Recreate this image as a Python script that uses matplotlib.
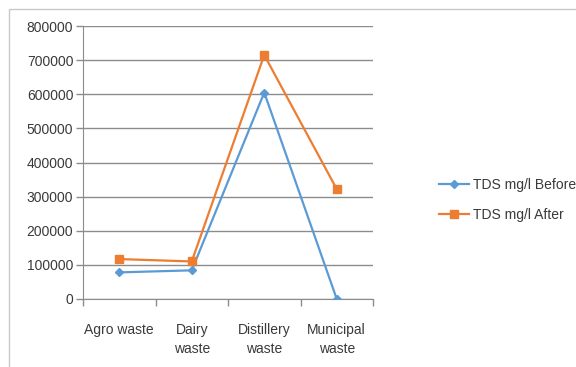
import matplotlib
matplotlib.use("Agg")
import matplotlib.pyplot as plt
from matplotlib.patches import Rectangle

categories = ["Agro waste", "Dairy\nwaste", "Distillery\nwaste", "Municipal\nwaste"]
tds_before = [78000, 84000, 605000, 0]
tds_after = [117000, 110000, 715000, 322000]
y_ticks = [0, 100000, 200000, 300000, 400000, 500000, 600000, 700000, 800000]

blue = "#5B9BD5"
orange = "#ED7D31"
grid_c = "#8C8C8C"
text_c = "#3A3A3A"

plt.rcParams["font.family"] = ["Liberation Sans", "DejaVu Sans"]

fig = plt.figure(figsize=(5.76, 3.67), dpi=100)
fig.patch.set_facecolor("white")

# chart area frame
fig.patches.append(Rectangle((9 / 576, -0.1), 1.2, 1 - 9 / 367 + 0.1,
                             transform=fig.transFigure, fill=False,
                             edgecolor="#C8C8C8", linewidth=1.0))

ax = fig.add_axes([83 / 576, 1 - 299 / 367, 290 / 576, 273 / 367])
x = list(range(len(categories)))
ax.plot(x, tds_before, color=blue, linewidth=1.6, marker="D", markersize=4,
        label="TDS mg/l Before", zorder=3)
ax.plot(x, tds_after, color=orange, linewidth=1.6, marker="s", markersize=6,
        label="TDS mg/l After", zorder=3)

ax.set_xlim(-0.5, len(categories) - 0.5)
ax.set_ylim(0, 800000)
ax.set_yticks(y_ticks)
ax.set_yticklabels([str(v) for v in y_ticks], fontsize=10, color=text_c)
ax.yaxis.grid(True, color=grid_c, linewidth=1.0)
ax.set_axisbelow(True)

ax.set_xticks([i - 0.5 for i in range(len(categories) + 1)])
ax.set_xticklabels([])
ax.set_xticks(x, minor=True)
ax.set_xticklabels(categories, minor=True, fontsize=10, color=text_c,
                   va="top", linespacing=1.5)
ax.tick_params(axis="x", which="minor", length=0, pad=17)
ax.tick_params(axis="x", which="major", length=5, color=grid_c, width=1)
ax.tick_params(axis="y", length=5, color=grid_c, width=1, pad=2)

for s in ["top", "right"]:
    ax.spines[s].set_visible(False)
ax.spines["left"].set_color(grid_c)
ax.spines["bottom"].set_color(grid_c)

fig.legend(loc="upper left", bbox_to_anchor=(426 / 576, 1 - 165 / 367),
           frameon=False, fontsize=10, handlelength=2.2, labelspacing=1.2,
           handletextpad=0.3, labelcolor=text_c)

fig.savefig("out.png", dpi=100)
